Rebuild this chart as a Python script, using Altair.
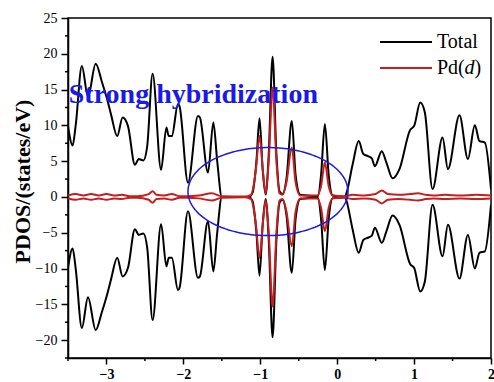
import altair as alt
import numpy as np
import pandas as pd

# Spin-resolved density of states; spin-down is drawn as the mirror (negative) of spin-up.
energy_total = [-3.50, -3.44, -3.40, -3.32, -3.24, -3.14, -3.06, -2.99, -2.94, -2.86,
                -2.79, -2.72, -2.63, -2.58, -2.52, -2.47, -2.40, -2.29, -2.22, -2.19,
                -2.15, -2.07, -2.05, -1.94, -1.81, -1.785, -1.68, -1.61, -1.56, -1.50,
                -1.15, -1.10, -1.05, -1.01, -0.97, -0.93, -0.89, -0.84, -0.79, -0.75,
                -0.71, -0.66, -0.59, -0.54, -0.48, -0.25, -0.21, -0.16, -0.11, -0.06,
                0.10, 0.12, 0.20, 0.28, 0.34, 0.40, 0.45, 0.49, 0.58, 0.64,
                0.72, 0.81, 0.95, 1.00, 1.08, 1.14, 1.24, 1.37, 1.44, 1.59,
                1.70, 1.79, 1.85, 1.92, 2.00]
dos_total = [9.9, 7.2, 10.0, 18.3, 14.0, 18.6, 16.1, 13.6, 11.5, 8.5,
             11.1, 9.9, 4.5, 5.3, 5.1, 7.1, 17.2, 3.8, 9.7, 8.5,
             8.5, 13.0, 12.7, 2.0, 11.3, 11.1, 3.4, 10.4, 5.0, 0.0,
             0.0, 0.6, 5.0, 11.0, 4.0, 0.3, 6.0, 19.6, 6.0, 0.8,
             0.4, 2.5, 10.6, 3.0, 0.3, 0.1, 3.0, 10.2, 3.0, 0.2,
             0.0, 0.5, 4.5, 7.8, 6.0, 5.7, 5.4, 4.3, 6.4, 4.8,
             2.6, 3.9, 9.4, 9.9, 13.2, 11.8, 1.1, 8.3, 3.9, 11.4,
             5.3, 10.0, 7.8, 7.6, 1.1]

energy_pd = [-3.50, -3.40, -3.30, -3.20, -3.10, -3.00, -2.90, -2.80, -2.70, -2.60,
             -2.45, -2.40, -2.35, -2.25, -2.15, -2.05, -1.95, -1.80, -1.63, -1.50,
             -1.20, -1.12, -1.06, -1.01, -0.96, -0.93, -0.89, -0.84, -0.79, -0.75,
             -0.71, -0.66, -0.59, -0.54, -0.48, -0.26, -0.21, -0.16, -0.11, -0.06,
             0.10, 0.20, 0.35, 0.50, 0.58, 0.66, 0.80, 0.95, 1.05, 1.15,
             1.25, 1.40, 1.60, 1.80, 2.00]
dos_pd = [0.2, 0.4, 0.2, 0.4, 0.2, 0.4, 0.2, 0.3, 0.1, 0.1,
          0.4, 0.8, 0.3, 0.2, 0.4, 0.1, 0.1, 0.2, 0.5, 0.1,
          0.05, 0.3, 3.5, 8.5, 3.0, 0.5, 5.0, 15.3, 5.0, 0.5,
          0.3, 2.0, 6.9, 2.0, 0.2, 0.2, 1.5, 4.8, 1.5, 0.2,
          0.1, 0.3, 0.2, 0.4, 0.9, 0.4, 0.3, 0.4, 0.5, 0.3,
          0.2, 0.3, 0.2, 0.3, 0.2]

x_major = [-3, -2, -1, 0, 1, 2]
x_minor = [-3.5, -2.5, -1.5, -0.5, 0.5, 1.5]
y_major = [-20, -15, -10, -5, 0, 5, 10, 15, 20, 25]
y_minor = [-22.5, -17.5, -12.5, -7.5, -2.5, 2.5, 7.5, 12.5, 17.5, 22.5]

SERIF = "Liberation Serif"
BLACK = "#000000"
RED = "#c41e1e"
BLUE = "#1a1ae6"
W, H = 423, 340


def spin_frame(energy, dos):
    up = pd.DataFrame({"E": energy, "DOS": dos, "spin": "up"})
    down = pd.DataFrame({"E": energy, "DOS": [-v for v in dos], "spin": "down"})
    return pd.concat([up, down], ignore_index=True)


total_df = spin_frame(energy_total, dos_total)
pd_df = spin_frame(energy_pd, dos_pd)

# annotation ellipse around the hybridized region
t = np.linspace(0, 2 * np.pi, 181)
ell_df = pd.DataFrame({"t": t,
                       "E": -0.90 + 1.04 * np.cos(t),
                       "DOS": 0.75 + 6.15 * np.sin(t)})

x_scale = alt.Scale(domain=[-3.5, 2.0], nice=False, zero=False)
y_scale = alt.Scale(domain=[-22.5, 25], nice=False, zero=False)

x_axis = alt.Axis(
    values=x_major, format="d", title=None, grid=False, tickSize=6,
    labelOverlap=False, labelFlush=False,
    labelFont=SERIF, labelFontSize=14, labelFontWeight="bold", labelColor=BLACK,
    labelPadding=3, domainColor=BLACK, domainWidth=1.5, tickColor=BLACK, tickWidth=1.5,
)
y_axis = alt.Axis(
    values=y_major, format="d", title="PDOS/(states/eV)", grid=False, tickSize=7,
    labelOverlap=False, labelFlush=False,
    labelFont=SERIF, labelFontSize=14, labelColor=BLACK, labelPadding=4,
    domainColor=BLACK, domainWidth=1.5, tickColor=BLACK, tickWidth=1.5,
    titleFont=SERIF, titleFontSize=22, titleFontWeight="bold", titleColor=BLACK,
    titleX=-46, titleY=163, titleBaseline="middle", titleAngle=270,
)

X = alt.X("E:Q", scale=x_scale, axis=x_axis)
Y = alt.Y("DOS:Q", scale=y_scale, axis=y_axis)

total_line = alt.Chart(total_df).mark_line(
    color=BLACK, strokeWidth=2, interpolate="monotone", clip=True
).encode(x=X, y=Y, detail="spin:N")

pd_line = alt.Chart(pd_df).mark_line(
    color=RED, strokeWidth=2, interpolate="monotone", clip=True
).encode(x=X, y=Y, detail="spin:N")

ellipse = alt.Chart(ell_df).mark_line(color=BLUE, strokeWidth=1.5, clip=True).encode(
    x=X, y=Y, order="t:Q"
)

# minor ticks, outside the frame
x_minor_ticks = alt.Chart(pd.DataFrame({"E": x_minor})).mark_rule(
    color=BLACK, strokeWidth=1.5
).encode(x=X, y=alt.value(H), y2=alt.value(H + 3))
y_minor_ticks = alt.Chart(pd.DataFrame({"DOS": y_minor})).mark_rule(
    color=BLACK, strokeWidth=1.5
).encode(y=Y, x=alt.value(-3), x2=alt.value(0))

note = alt.Chart(pd.DataFrame({"E": [-3.49], "DOS": [13.1], "txt": ["Strong hybridization"]})).mark_text(
    align="left", baseline="alphabetic", font=SERIF, fontSize=28, fontWeight="bold", color=BLUE
).encode(x=X, y=Y, text="txt:N")

# legend drawn by hand so the orbital letter can be italic
one = pd.DataFrame({"k": [0]})
leg_total_line = alt.Chart(one).mark_rule(color=BLACK, strokeWidth=2).encode(
    x=alt.value(312), x2=alt.value(364), y=alt.value(24))
leg_pd_line = alt.Chart(one).mark_rule(color=RED, strokeWidth=2).encode(
    x=alt.value(312), x2=alt.value(364), y=alt.value(50))
leg_text_style = dict(align="left", baseline="middle", font=SERIF, fontSize=20, color=BLACK)
leg_total = alt.Chart(one).mark_text(**leg_text_style).encode(
    x=alt.value(369), y=alt.value(24), text=alt.value("Total"))
leg_pd_a = alt.Chart(one).mark_text(**leg_text_style).encode(
    x=alt.value(369), y=alt.value(50), text=alt.value("Pd("))
leg_pd_b = alt.Chart(one).mark_text(fontStyle="italic", **leg_text_style).encode(
    x=alt.value(396.5), y=alt.value(50), text=alt.value("d"))
leg_pd_c = alt.Chart(one).mark_text(**leg_text_style).encode(
    x=alt.value(406.5), y=alt.value(50), text=alt.value(")"))

chart = alt.layer(
    total_line, pd_line, ellipse, x_minor_ticks, y_minor_ticks, note,
    leg_total_line, leg_pd_line, leg_total, leg_pd_a, leg_pd_b, leg_pd_c,
).properties(
    width=W, height=H,
    autosize=alt.AutoSizeParams(type="none"),
    padding={"left": 68, "top": 18, "right": 3, "bottom": 24},
    background="white",
).configure_view(
    stroke=BLACK, strokeWidth=1.5
)

chart.save("out.html", embed_options={"renderer": "svg", "actions": False})
